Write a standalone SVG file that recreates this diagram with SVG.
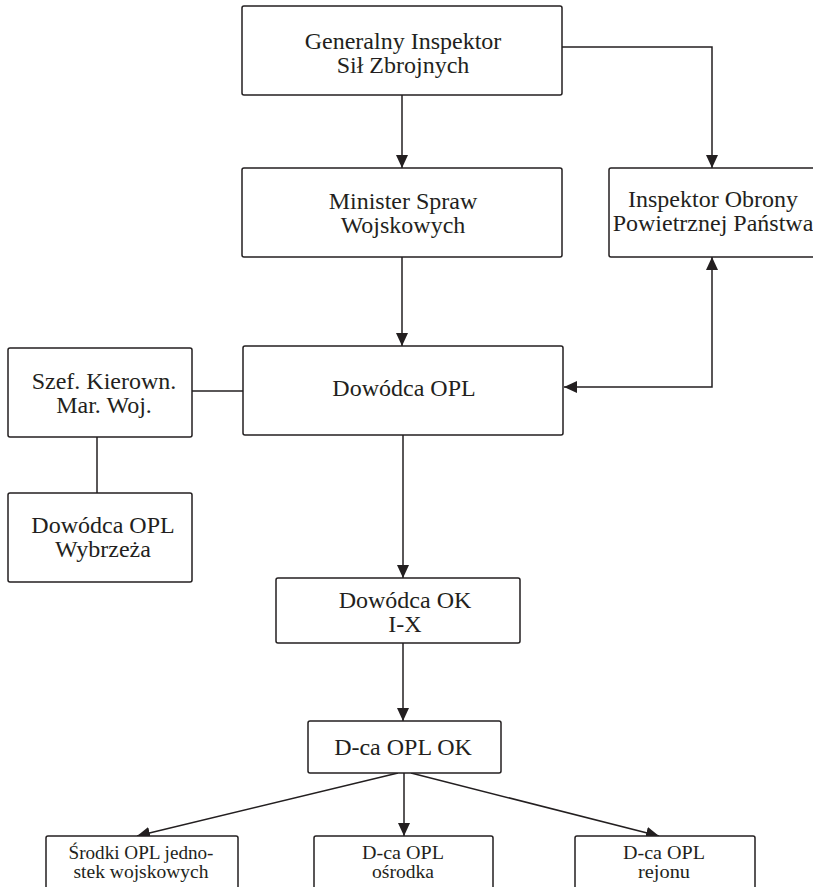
<svg xmlns="http://www.w3.org/2000/svg" width="813" height="887" viewBox="0 0 813 887">
  <style>
    .box { fill: #ffffff; stroke: #231f20; stroke-width: 1.5; }
    .lbl { font-family: "Liberation Serif", "Times New Roman", serif; font-size: 24px; fill: #231f20; text-anchor: middle; }
    .sm { font-size: 19px; }
    .wire { fill: none; stroke: #231f20; stroke-width: 1.5; }
  </style>
  <defs>
    <marker id="arrow" viewBox="0 0 13 12" refX="13" refY="6" markerWidth="13" markerHeight="12" markerUnits="userSpaceOnUse" orient="auto-start-reverse">
      <path d="M0,0 L13,6 L0,12 Z" fill="#231f20"/>
    </marker>
  </defs>

  <rect width="813" height="887" fill="#ffffff"/>

  <!-- connectors -->
  <g id="connectors">
    <line class="wire" x1="402" y1="95" x2="402" y2="168" marker-end="url(#arrow)"/>
    <polyline class="wire" points="562,47 712,47 712,168" marker-end="url(#arrow)"/>
    <line class="wire" x1="402" y1="257" x2="402" y2="346" marker-end="url(#arrow)"/>
    <polyline class="wire" points="564,387 712,387 712,257" marker-start="url(#arrow)" marker-end="url(#arrow)"/>
    <line class="wire" x1="192" y1="391" x2="243" y2="391"/>
    <line class="wire" x1="97" y1="437" x2="97" y2="493"/>
    <line class="wire" x1="403" y1="435" x2="403" y2="578" marker-end="url(#arrow)"/>
    <line class="wire" x1="403" y1="643" x2="403" y2="721" marker-end="url(#arrow)"/>
    <line class="wire" x1="398" y1="773" x2="137" y2="836" marker-end="url(#arrow)"/>
    <line class="wire" x1="404" y1="773" x2="404" y2="836" marker-end="url(#arrow)"/>
    <line class="wire" x1="411" y1="773" x2="659" y2="836" marker-end="url(#arrow)"/>
  </g>

  <g id="gen-inspektor">
    <rect class="box" x="242" y="6" width="320" height="89" rx="2"/>
    <text class="lbl" x="403" y="49">Generalny Inspektor</text>
    <text class="lbl" x="403" y="73">Sił Zbrojnych</text>
  </g>

  <g id="minister">
    <rect class="box" x="242" y="168" width="320" height="89" rx="2"/>
    <text class="lbl" x="403" y="209">Minister Spraw</text>
    <text class="lbl" x="403" y="233">Wojskowych</text>
  </g>

  <g id="inspektor-opl">
    <rect class="box" x="609" y="168" width="220" height="89" rx="2"/>
    <text class="lbl" x="713" y="207">Inspektor Obrony</text>
    <text class="lbl" x="713" y="231">Powietrznej Państwa</text>
  </g>

  <g id="szef-kierown">
    <rect class="box" x="8" y="348" width="184" height="89" rx="2"/>
    <text class="lbl" x="104" y="389">Szef. Kierown.</text>
    <text class="lbl" x="104" y="413">Mar. Woj.</text>
  </g>

  <g id="dowodca-opl">
    <rect class="box" x="243" y="346" width="320" height="89" rx="2"/>
    <text class="lbl" x="404" y="396">Dowódca OPL</text>
  </g>

  <g id="dowodca-opl-wybrzeza">
    <rect class="box" x="8" y="493" width="184" height="89" rx="2"/>
    <text class="lbl" x="103" y="533">Dowódca OPL</text>
    <text class="lbl" x="103" y="557">Wybrzeża</text>
  </g>

  <g id="dowodca-ok">
    <rect class="box" x="276" y="578" width="244" height="65" rx="2"/>
    <text class="lbl" x="405" y="608">Dowódca OK</text>
    <text class="lbl" x="405" y="632">I-X</text>
  </g>

  <g id="dca-opl-ok">
    <rect class="box" x="308" y="721" width="193" height="52" rx="2"/>
    <text class="lbl" x="403" y="755">D-ca OPL OK</text>
  </g>

  <g id="srodki-opl">
    <rect class="box" x="46" y="836" width="192" height="70" rx="2"/>
    <text class="lbl sm" x="141" y="859" textLength="145" lengthAdjust="spacingAndGlyphs">Środki OPL jedno-</text>
    <text class="lbl sm" x="141" y="878" textLength="135" lengthAdjust="spacingAndGlyphs">stek wojskowych</text>
  </g>

  <g id="dca-opl-osrodka">
    <rect class="box" x="314" y="836" width="179" height="70" rx="2"/>
    <text class="lbl sm" x="403" y="859" textLength="82" lengthAdjust="spacingAndGlyphs">D-ca OPL</text>
    <text class="lbl sm" x="403" y="878" textLength="62" lengthAdjust="spacingAndGlyphs">ośrodka</text>
  </g>

  <g id="dca-opl-rejonu">
    <rect class="box" x="575" y="836" width="180" height="70" rx="2"/>
    <text class="lbl sm" x="664" y="859" textLength="82" lengthAdjust="spacingAndGlyphs">D-ca OPL</text>
    <text class="lbl sm" x="664" y="878" textLength="52" lengthAdjust="spacingAndGlyphs">rejonu</text>
  </g>
</svg>
